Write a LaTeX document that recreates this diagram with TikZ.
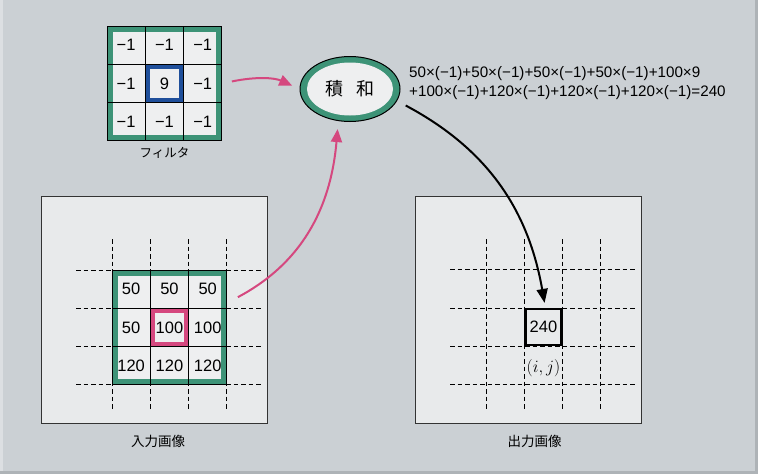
\documentclass[tikz,border=0pt]{standalone}
\usepackage{fontspec}
\setmainfont{Liberation Sans}
\newfontfamily\jpfont{Noto Sans CJK JP}
\usetikzlibrary{positioning, arrows.meta, shapes.geometric, backgrounds}

\definecolor{bggray}{HTML}{CBD0D4}
\definecolor{edgelight}{HTML}{DCDFE2}
\definecolor{edgedark}{HTML}{AEB3B7}
\definecolor{boxfill}{HTML}{E8EAEB}
\definecolor{cellfill}{HTML}{EEEFF0}
\definecolor{boxline}{HTML}{333333}
\definecolor{kgreen}{HTML}{3D9377}
\definecolor{kpink}{HTML}{D5487F}
\definecolor{kblue}{HTML}{1F4F9B}

\begin{document}
\begin{tikzpicture}[
    x=1pt, y=-1pt,
    node distance = 0pt,
    cell/.style={draw, line width=1pt, minimum size=38.3pt, inner sep=0pt, outer sep=0pt, font=\fontsize{16.5}{16.5}\selectfont},
    bigbox/.style={draw=boxline, fill=boxfill, line width=1pt, minimum width=226pt, minimum height=227pt, inner sep=0pt},
    result/.style={draw, line width=2.6pt, minimum size=36pt, inner sep=0pt, font=\fontsize{16.5}{16.5}\selectfont},
    jlabel/.style={inner sep=0pt, font=\jpfont\fontsize{13.5}{13.5}\selectfont},
    sumnode/.style={ellipse, draw=black, line width=1pt, fill=kgreen, minimum width=100pt, minimum height=65pt, inner sep=0pt,
        font=\jpfont\fontsize{18}{18}\selectfont,
        path picture={\fill[cellfill] (path picture bounding box.center) ellipse [x radius=43pt, y radius=26.5pt];}},
    formula/.style={align=left, inner sep=0pt, font=\fontsize{15.2}{19}\selectfont},
    gridline/.style={dashed, dash pattern=on 4.5pt off 3pt, line width=1pt},
    greenframe/.style={fill=kgreen},
    innerfill/.style={fill=cellfill},
    pinkarrow/.style={->, >={Triangle[length=13pt, width=11pt]}, kpink, line width=2pt, shorten >=8pt},
    blackarrow/.style={->, >={Triangle[length=14pt, width=11pt]}, black, line width=2pt, shorten >=5pt},
]

\node[cell] (f11) at (126.15,45.15) {−1};
\node[cell, right=of f11] (f12) {−1};
\node[cell, right=of f12] (f13) {−1};
\node[cell, below=of f11] (f21) {−1};
\node[cell, right=of f21] (f22) {9};
\node[cell, right=of f22] (f23) {−1};
\node[cell, below=of f21] (f31) {−1};
\node[cell, right=of f31] (f32) {−1};
\node[cell, right=of f32] (f33) {−1};
\draw[kblue, line width=4pt] ([shift={(2.5pt,-2.5pt)}]f22.north west) rectangle ([shift={(-2.5pt,2.5pt)}]f22.south east);
\node[jlabel, font=\jpfont\fontsize{12.5}{12.5}\selectfont, below=6pt of f32] (flabel) {フィルタ};

\node[cell] (i11) at (131.15,289.15) {50};
\node[cell, right=of i11] (i12) {50};
\node[cell, right=of i12] (i13) {50};
\node[cell, below=of i11] (i21) {50};
\node[cell, right=of i21] (i22) {100};
\node[cell, right=of i22] (i23) {100};
\node[cell, below=of i21] (i31) {120};
\node[cell, right=of i31] (i32) {120};
\node[cell, right=of i32] (i33) {120};
\draw[kpink, line width=4pt] ([shift={(2.5pt,-2.5pt)}]i22.north west) rectangle ([shift={(-2.5pt,2.5pt)}]i22.south east);

\node[result] (out) at (543.45,327.15) {240};
\node[inner sep=0pt, font=\fontsize{16}{16}\selectfont, below=13pt of out] (ij) {$(i,j)$};

\node[sumnode] (sum) at (350,89) {積\hspace{0.7em}和};
\node[formula, anchor=west] (calc) at (409,83.5) {50×(−1)+50×(−1)+50×(−1)+50×(−1)+100×9\\+100×(−1)+120×(−1)+120×(−1)+120×(−1)=240};

\begin{scope}[on background layer]
\fill[bggray] (0,0) rectangle (758,474);
\fill[edgelight] (0,0) rectangle (3,474);
\fill[edgedark] (0,471) rectangle (758,474);
\fill[edgedark] (755,0) rectangle (758,474);
\node[bigbox] (inbox) at (154,309.5) {};
\node[bigbox] (outbox) at (528.5,309.5) {};
\foreach \x in {112,150.3,188.6,226.9}
    \draw[gridline] (\x,239) -- (\x,410);
\foreach \y in {270,308.3,346.6,384.9}
    \draw[gridline] (76,\y) -- (263,\y);
\foreach \x in {486,524.3,562.6,600.9}
    \draw[gridline] (\x,239) -- (\x,410);
\foreach \y in {269.7,308,346.3,384.6}
    \draw[gridline] (450,\y) -- (637,\y);
\fill[greenframe] (f11.north west) rectangle (f33.south east);
\fill[innerfill] ([shift={(6pt,-6pt)}]f11.north west) rectangle ([shift={(-6pt,6pt)}]f33.south east);
\fill[greenframe] (i11.north west) rectangle (i33.south east);
\fill[innerfill] ([shift={(6pt,-6pt)}]i11.north west) rectangle ([shift={(-6pt,6pt)}]i33.south east);
\end{scope}

\node[jlabel, below=11pt of inbox, xshift=4pt] (inlabel) {入力画像};
\node[jlabel, below=11pt of outbox, xshift=6pt] (outlabel) {出力画像};

\draw[pinkarrow] ([shift={(10pt,2pt)}]f23.east) to[bend left=18] (sum.west);
\draw[pinkarrow] ([shift={(11pt,-8pt)}]i13.east) to[out=28, in=-95] (sum.250);
\draw[blackarrow] ([shift={(9pt,-4pt)}]sum.-15) to[out=-28, in=100] ([xshift=2pt]out.north);
\end{tikzpicture}
\end{document}
